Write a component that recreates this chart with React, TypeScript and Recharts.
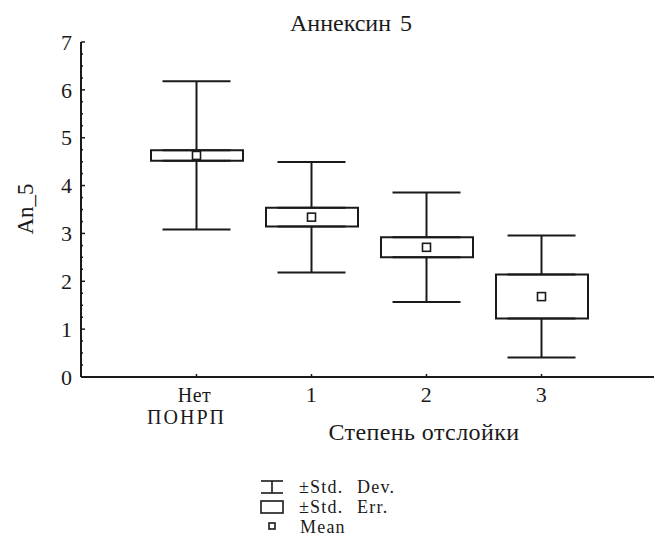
import React from 'react';
import { ComposedChart, XAxis, YAxis, Scatter, Bar, ErrorBar } from 'recharts';

const categories = ['Нет ПОНРП', '1', '2', '3'];
const means = [4.63, 3.34, 2.71, 1.68];
const stdErr = [0.11, 0.195, 0.21, 0.46];
const stdDev = [1.55, 1.155, 1.145, 1.275];
const yTicks = Array.from({ length: 29 }, (_, i) => i * 0.25);

const data = categories.map((c, i) => ({
  cat: c,
  mean: means[i],
  seTop: means[i] + stdErr[i],
  seBottom: means[i] - stdErr[i],
  se: [means[i] - stdErr[i], means[i] + stdErr[i]],
  upWhisker: [0, stdDev[i] - stdErr[i]],
  downWhisker: [stdDev[i] - stdErr[i], 0],
}));

const FONT = '"Liberation Serif", "Times New Roman", serif';
const INK = '#1a1a1a';

const YTick = (props: any) => {
  const { x, y, payload } = props;
  const v = payload.value;
  const major = Math.abs(v - Math.round(v)) < 1e-6;
  return (
    <g>
      <line x1={x} y1={y} x2={x + (major ? 4 : 2)} y2={y} stroke={INK} strokeWidth={1.5} />
      {major && (
        <text x={x - 9} y={y} dy="0.35em" textAnchor="end" fontFamily={FONT} fontSize={22} fill={INK}>
          {v}
        </text>
      )}
    </g>
  );
};

const XTick = (props: any) => {
  const { x, y, payload } = props;
  const lines = String(payload.value).split(' ');
  return (
    <g>
      <line x1={x} y1={y} x2={x} y2={y - 3} stroke={INK} strokeWidth={1.5} />
      {lines.map((l, i) => (
        <text
          key={i}
          x={x - (i > 0 ? 8 : 0) - (lines.length > 1 ? 2 : 0)}
          y={y + 25 + i * 22}
          textAnchor="middle"
          fontFamily={FONT}
          fontSize={lines.length > 1 ? 20 : 22}
          fill={INK}
          style={{ letterSpacing: i > 0 ? 2 : 0.5 }}
        >
          {l}
        </text>
      ))}
    </g>
  );
};

const MeanShape = (props: any) => {
  const { cx, cy } = props;
  if (cx == null || cy == null) return null;
  return <rect x={cx - 4} y={cy - 4} width={8} height={8} fill="#fff" stroke={INK} strokeWidth={1.6} />;
};

const NoShape = () => null;

export default function App() {
  return (
    <div style={{ position: 'absolute', left: 0, top: 0, width: 658, height: 538, background: '#fff' }}>
      <ComposedChart
        width={658}
        height={538}
        data={data}
        margin={{ top: 42, right: 4, bottom: 0, left: 0 }}
      >
        <XAxis
          dataKey="cat"
          type="category"
          padding={{ left: 58, right: 55 }}
          height={161}
          axisLine={{ stroke: INK, strokeWidth: 2 }}
          tickLine={false}
          tickSize={0}
          tickMargin={0}
          tick={<XTick />}
          interval={0}
        />
        <YAxis
          type="number"
          domain={[0, 7]}
          ticks={yTicks}
          width={81}
          axisLine={{ stroke: INK, strokeWidth: 2 }}
          tickLine={false}
          tickSize={0}
          tickMargin={0}
          tick={<YTick />}
          interval={0}
          allowDataOverflow
        />
        <Bar dataKey="se" barSize={92} fill="#fff" stroke={INK} strokeWidth={2} isAnimationActive={false} />
        <Scatter dataKey="seTop" shape={<NoShape />} isAnimationActive={false}>
          <ErrorBar dataKey="upWhisker" direction="y" width={34} stroke={INK} strokeWidth={2} />
        </Scatter>
        <Scatter dataKey="seBottom" shape={<NoShape />} isAnimationActive={false}>
          <ErrorBar dataKey="downWhisker" direction="y" width={34} stroke={INK} strokeWidth={2} />
        </Scatter>
        <Scatter dataKey="mean" shape={<MeanShape />} isAnimationActive={false} />
      </ComposedChart>
      <svg width={658} height={538} style={{ position: 'absolute', left: 0, top: 0, pointerEvents: 'none' }}>
        <text x={351} y={31} textAnchor="middle" fontFamily={FONT} fontSize={24} fill={INK} style={{ wordSpacing: 3 }}>
          Аннексин 5
        </text>
        <text
          x={33}
          y={209}
          textAnchor="middle"
          transform="rotate(-90 33 209)"
          fontFamily={FONT}
          fontSize={23}
          fill={INK}
        >
          An_5
        </text>
        <text x={424} y={440} textAnchor="middle" fontFamily={FONT} fontSize={24} fill={INK} style={{ letterSpacing: 0.4 }}>
          Степень отслойки
        </text>
        <g stroke={INK} strokeWidth={1.6} fill="none">
          <line x1={261} y1={481} x2={283} y2={481} />
          <line x1={261} y1={493} x2={283} y2={493} />
          <line x1={272} y1={481} x2={272} y2={493} />
          <rect x={261} y={501} width={22} height={12} />
          <rect x={269} y={523} width={6} height={6} />
        </g>
        <g fontFamily={FONT} fontSize={18} fill={INK} style={{ letterSpacing: 1.2, wordSpacing: 8 }}>
          <text x={299} y={493}>±Std. Dev.</text>
          <text x={299} y={513}>±Std. Err.</text>
          <text x={300} y={533}>Mean</text>
        </g>
      </svg>
    </div>
  );
}
